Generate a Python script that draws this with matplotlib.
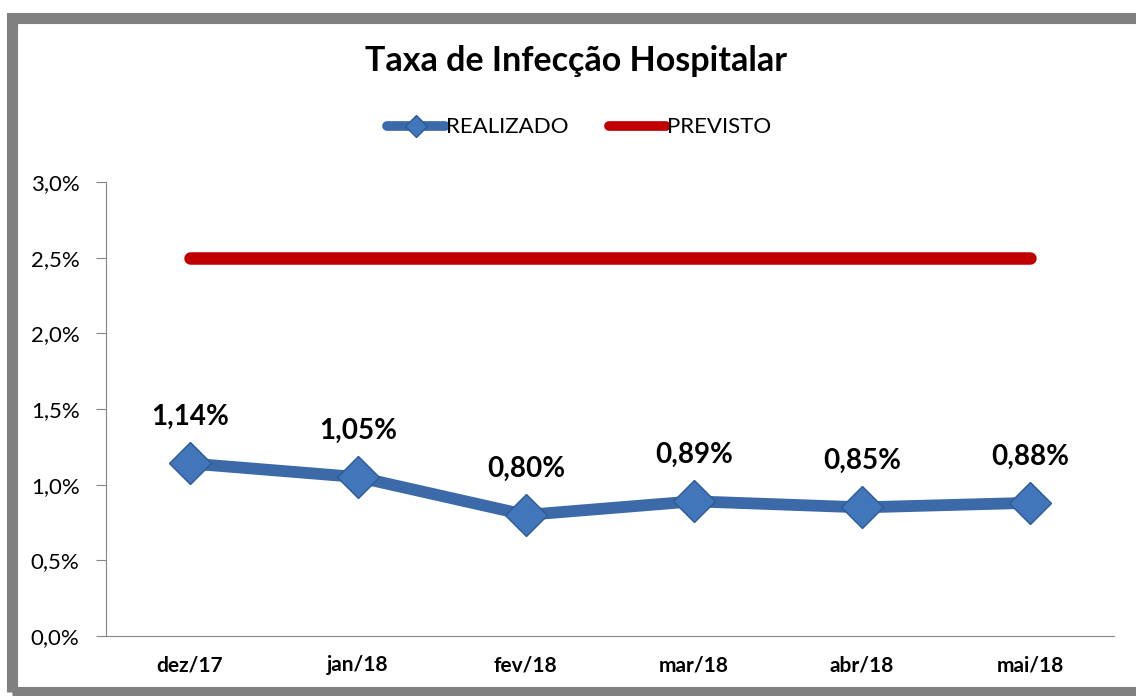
import matplotlib.pyplot as plt
from matplotlib.patches import Rectangle
from matplotlib.ticker import FuncFormatter

# Dados do gráfico
meses = ["dez/17", "jan/18", "fev/18", "mar/18", "abr/18", "mai/18"]
realizado = [1.14, 1.05, 0.80, 0.89, 0.85, 0.88]
previsto = [2.5, 2.5, 2.5, 2.5, 2.5, 2.5]
rotulos = ["1,14%", "1,05%", "0,80%", "0,89%", "0,85%", "0,88%"]

plt.rcParams["font.family"] = ["Lato", "DejaVu Sans"]

fig = plt.figure(figsize=(11.36, 6.96), dpi=100)
ax = fig.add_axes([0.0933, 0.0862, 0.8873, 0.6523])

x = range(len(meses))
ax.plot(x, realizado, color="#3C6AA8", linewidth=8.5, solid_capstyle="round",
        marker="D", markersize=21, markerfacecolor="#4276BA",
        markeredgecolor="#2E5A94", markeredgewidth=1, label="REALIZADO", zorder=3)
ax.plot(x, previsto, color="#C00000", linewidth=9, solid_capstyle="round",
        label="PREVISTO", zorder=2)

# Rótulos de dados
for i, (v, r) in enumerate(zip(realizado, rotulos)):
    ax.annotate(r, (i, v), xytext=(0, 24), textcoords="offset points",
                ha="center", va="bottom", fontsize=20, fontweight="bold")

ax.set_xlim(-0.5, len(meses) - 0.5)
ax.set_ylim(0, 3.0)
ax.set_yticks([0, 0.5, 1.0, 1.5, 2.0, 2.5, 3.0])
ax.yaxis.set_major_formatter(FuncFormatter(lambda v, p: f"{v:.1f}%".replace(".", ",")))
ax.set_xticks(list(x))
ax.set_xticklabels(meses, fontweight="bold")
ax.tick_params(axis="y", labelsize=16, length=7, color="#868686", pad=12)
ax.tick_params(axis="x", labelsize=15, length=0, pad=14)

for lado in ["top", "right"]:
    ax.spines[lado].set_visible(False)
ax.spines["left"].set_color("#868686")
ax.spines["bottom"].set_color("#868686")

fig.text(0.507, 0.912, "Taxa de Infecção Hospitalar", ha="center", va="center",
         fontsize=24.5, fontweight="bold")
leg = fig.legend(loc="center", bbox_to_anchor=(0.510, 0.817), ncol=2, frameon=False,
                 fontsize=16, handlelength=2.6, handletextpad=0.05, columnspacing=1.8,
                 markerscale=0.55)
for linha in leg.get_lines():
    linha.set_linewidth(7)

# Moldura cinza
fig.patches.append(Rectangle((12 / 1136, 4 / 696), 1.2, 1 - 22 / 696,
                             transform=fig.transFigure, fill=False,
                             edgecolor="#808080", linewidth=8, zorder=0))

fig.savefig("out.png", dpi=100)
